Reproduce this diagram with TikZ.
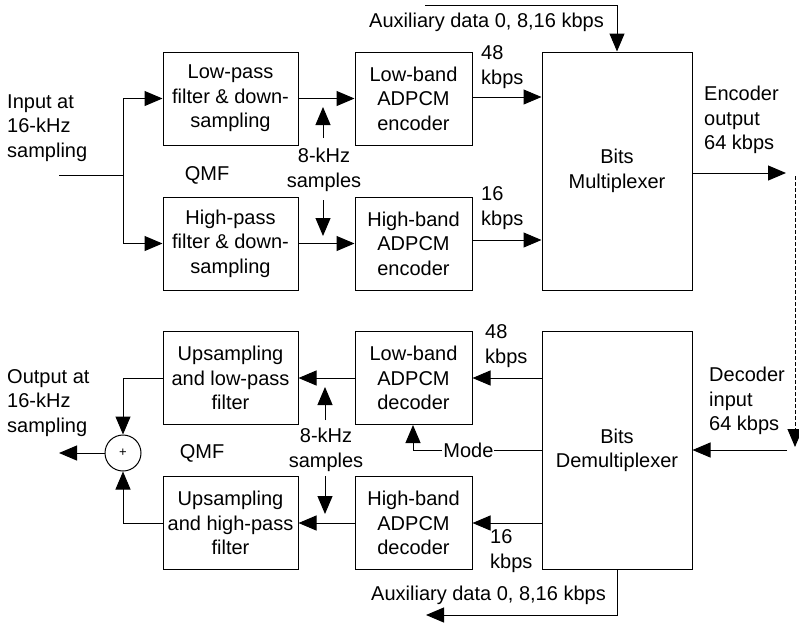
\documentclass[tikz,border=0pt]{standalone}
\usepackage{fontspec}
\setmainfont{Liberation Sans}
\usetikzlibrary{arrows.meta,calc}
\begin{document}
\begin{tikzpicture}[x=1pt,y=-1pt,
  every node/.style={font=\fontsize{20}{24.5}\selectfont},
  blk/.style={draw, line width=1pt, inner sep=0pt, align=center},
  wide/.style={blk, minimum width=135pt, minimum height=93pt},
  codec/.style={blk, minimum width=117pt, minimum height=93pt},
  big/.style={blk, minimum width=150pt, minimum height=238pt},
  lbl/.style={align=left, inner sep=0pt},
  conn/.style={line width=1pt},
  tip/.style={-{Triangle[length=18pt,width=15pt]}},
  arr/.style={conn, tip}
]
\useasboundingbox (0,0) rectangle (799,625);

% encoder blocks
\node[wide]  (LPF) at (230.5,98.5)  {Low-pass\\filter \& down-\\sampling};
\node[codec] (LBE) at (413.5,98.5)  {Low-band\\ADPCM\\encoder};
\node[wide]  (HPF) at (230.5,243.5) {High-pass\\filter \& down-\\sampling};
\node[codec] (HBE) at (413.5,243.5) {High-band\\ADPCM\\encoder};
\node[big]   (MUX) at (617,171)     {Bits\\Multiplexer};

% decoder blocks
\node[big]   (DMX) at (617,450.5)   {Bits\\Demultiplexer};
\node[codec] (LBD) at (413.5,378)   {Low-band\\ADPCM\\decoder};
\node[codec] (HBD) at (413.5,523)   {High-band\\ADPCM\\decoder};
\node[wide]  (ULP) at (230.5,378)   {Upsampling\\and low-pass\\filter};
\node[wide]  (UHP) at (230.5,523)   {Upsampling\\and high-pass\\filter};
\node[draw, circle, line width=1pt, minimum size=36pt, inner sep=0pt,
      font=\fontsize{13}{14}\selectfont] (SUM) at (123,453) {+};

% labels
\node[lbl, anchor=west] (inlbl) at (7,128) {Input at\\16-kHz\\sampling};
\node[lbl, anchor=west] (outlbl) at (7,403) {Output at\\16-kHz\\sampling};
\node (qmf1) at (207,175) {QMF};
\node (qmf2) at (202,453) {QMF};
\node[align=center, inner sep=0pt] (s1) at (324,170) {8-kHz\\samples};
\node[align=center, inner sep=0pt] (s2) at (326,450) {8-kHz\\samples};
\node[lbl, anchor=west] (r1) at (481,67) {48\\kbps};
\node[lbl, anchor=west] (r2) at (481,208) {16\\kbps};
\node[lbl, anchor=west] (r3) at (485,346) {48\\kbps};
\node[lbl, anchor=west] (r4) at (490,551) {16\\kbps};
\node[lbl, anchor=west] (eo) at (704,120) {Encoder\\output\\64 kbps};
\node[lbl, anchor=west] (di) at (709,401) {Decoder\\input\\64 kbps};
\node[inner sep=0pt, anchor=east] (aux1) at (604,22) {Auxiliary data 0, 8,16 kbps};
\node[inner sep=0pt, anchor=east] (aux2) at (606,595) {Auxiliary data 0, 8,16 kbps};

% coordinates
\coordinate (in) at (59,175);
\coordinate (j) at (123,175);
\coordinate (a1) at (425,5);
\coordinate (a2) at (617,5);
\coordinate (eout) at (786,173);
\coordinate (d1) at (795,176);
\coordinate (d2) at (795,447);
\coordinate (din) at (787,450);
\coordinate (m1) at (542,450);
\coordinate (m2) at (413,450);
\coordinate (b1) at (617,615);
\coordinate (b2) at (426,615);
\coordinate (sout) at (59,453);
\coordinate (u1t) at (323,138);
\coordinate (u1h) at (323,107);
\coordinate (u2t) at (323,200);
\coordinate (u2h) at (323,236);
\coordinate (u3t) at (325,420);
\coordinate (u3h) at (325,387);
\coordinate (u4t) at (325,476);
\coordinate (u4h) at (325,514);

% encoder connectors
\draw[conn] (in) -- (j);
\draw[arr] (j) |- (LPF.west);
\draw[arr] (j) |- (HPF.west);
\draw[arr] (LPF.east) -- (LBE.west);
\draw[arr] (HPF.east) -- (HBE.west);
\draw[arr] (LBE.east |- 0,97) -- (MUX.west |- 0,97);
\draw[arr] (HBE.east |- 0,240) -- (MUX.west |- 0,240);
\draw[arr] (a1) -- (a2) -- (MUX.north);
\draw[arr] (MUX.east |- eout) -- (eout);
\draw[arr] (u1t) -- (u1h);
\draw[arr] (u2t) -- (u2h);

% channel
\draw[conn, dash pattern=on 4pt off 2pt, tip] (d1) -- (d2);

% decoder connectors
\draw[arr] (din) -- (DMX.east |- din);
\draw[arr] (DMX.west |- LBD) -- (LBD.east);
\draw[arr] (DMX.west |- HBD) -- (HBD.east);
\draw[arr] (m1) -- node[fill=white, inner sep=1pt, pos=0.57] (mode) {Mode} (m2) -- (m2 |- LBD.south);
\draw[arr] (DMX.south) -- (b1) -- (b2);
\draw[arr] (LBD.west) -- (ULP.east);
\draw[arr] (HBD.west) -- (UHP.east);
\draw[arr] (ULP.west) -| (SUM.north);
\draw[arr] (UHP.west) -| (SUM.south);
\draw[arr] (SUM.west) -- (sout);
\draw[arr] (u3t) -- (u3h);
\draw[arr] (u4t) -- (u4h);
\end{tikzpicture}
\end{document}
